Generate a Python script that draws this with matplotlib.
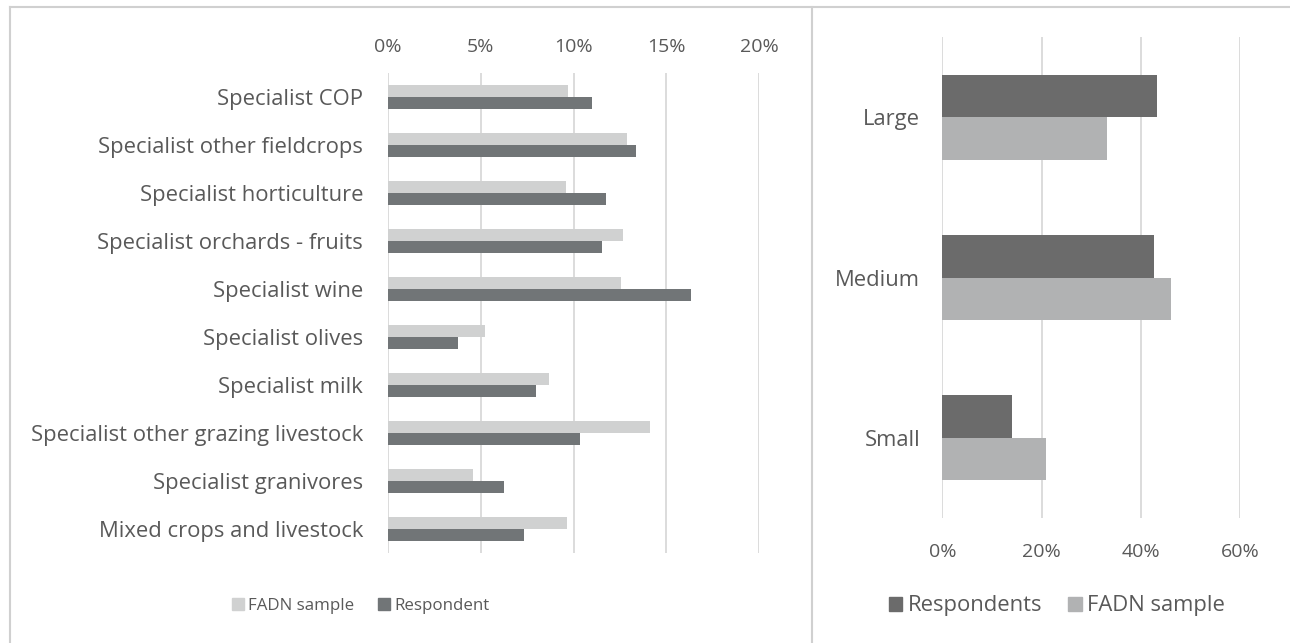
import matplotlib
matplotlib.use("Agg")
import matplotlib.pyplot as plt
import numpy as np
from matplotlib.lines import Line2D
from matplotlib.patches import Patch
from matplotlib.ticker import PercentFormatter

# ---------------- data ----------------
farm_types = ["Specialist COP", "Specialist other fieldcrops", "Specialist horticulture",
              "Specialist orchards - fruits", "Specialist wine", "Specialist olives",
              "Specialist milk", "Specialist other grazing livestock",
              "Specialist granivores", "Mixed crops and livestock"]
fadn_type = [9.7, 12.9, 9.6, 12.65, 12.55, 5.2, 8.65, 14.1, 4.6, 9.65]
resp_type = [11.0, 13.35, 11.75, 11.55, 16.3, 3.75, 7.95, 10.35, 6.25, 7.3]
type_ticks = [0, 5, 10, 15, 20]

sizes = ["Large", "Medium", "Small"]
resp_size = [43.3, 42.7, 14.0]
fadn_size = [33.1, 46.0, 20.8]
size_ticks = [0, 20, 40, 60]

# ---------------- style ----------------
W, H = 1290, 643
TXT = "#595959"
GRID = "#d9d9d9"
plt.rcParams["font.family"] = ["Open Sans", "DejaVu Sans"]
plt.rcParams["text.color"] = TXT

fig = plt.figure(figsize=(W / 100, H / 100), dpi=100)

def px_axes(x0, y0, x1, y1):
    return fig.add_axes([x0 / W, 1 - y1 / H, (x1 - x0) / W, (y1 - y0) / H])

FS_CAT = 15.8
FS_TICK = 14
FS_LEG_L = 12.2
FS_LEG_R = 15.8

# ---------------- left panel ----------------
ax1 = px_axes(388, 73, 759.3, 553)
y = np.arange(len(farm_types))
h = 0.26
ax1.barh(y - h / 2, fadn_type, height=h, color="#d0d1d1", label="FADN sample", zorder=3)
ax1.barh(y + h / 2, resp_type, height=h, color="#717577", label="Respondent", zorder=3)
ax1.set_ylim(len(farm_types) - 0.5, -0.5)
ax1.set_xlim(0, 20)
ax1.set_xticks(type_ticks)
ax1.xaxis.set_major_formatter(PercentFormatter(decimals=0))
ax1.xaxis.tick_top()
ax1.set_yticks(y)
ax1.set_yticklabels(farm_types)
ax1.tick_params(axis="x", length=0, pad=12.5, labelsize=FS_TICK, labelcolor=TXT)
ax1.tick_params(axis="y", length=0, pad=18, labelsize=FS_CAT, labelcolor=TXT)
ax1.grid(axis="x", color=GRID, linewidth=1.3, zorder=0)
for s in ax1.spines.values():
    s.set_visible(False)

fig.legend(handles=[Patch(color="#d0d1d1", label="FADN sample"),
                    Patch(color="#717577", label="Respondent")],
           loc="center", bbox_to_anchor=(361 / W, 1 - 606 / H), ncol=2, frameon=False,
           fontsize=FS_LEG_L, handlelength=0.7, handleheight=0.7, handletextpad=0.25,
           columnspacing=1.4, labelcolor=TXT)

# ---------------- right panel ----------------
ax2 = px_axes(942.3, 37, 1240, 518)
ys = np.arange(len(sizes))
h2 = 0.265
ax2.barh(ys - h2 / 2, resp_size, height=h2, color="#6b6b6b", zorder=3)
ax2.barh(ys + h2 / 2, fadn_size, height=h2, color="#b1b2b3", zorder=3)
ax2.set_ylim(len(sizes) - 0.5, -0.5)
ax2.set_xlim(0, 60)
ax2.set_xticks(size_ticks)
ax2.xaxis.set_major_formatter(PercentFormatter(decimals=0))
ax2.set_yticks(ys)
ax2.set_yticklabels(sizes)
ax2.tick_params(axis="x", length=0, pad=18, labelsize=FS_TICK, labelcolor=TXT)
ax2.tick_params(axis="y", length=0, pad=16, labelsize=FS_CAT, labelcolor=TXT)
ax2.grid(axis="x", color=GRID, linewidth=1.3, zorder=0)
for s in ax2.spines.values():
    s.set_visible(False)

fig.legend(handles=[Patch(color="#6b6b6b", label="Respondents"),
                    Patch(color="#b1b2b3", label="FADN sample")],
           loc="center", bbox_to_anchor=(1057 / W, 1 - 606 / H), ncol=2, frameon=False,
           fontsize=FS_LEG_R, handlelength=0.6, handleheight=0.6, handletextpad=0.25,
           columnspacing=1.2, labelcolor=TXT)

# ---------------- frame lines ----------------
BORDER = "#d0d0d0"
fig.add_artist(Line2D([10 / W, 10 / W], [0, 1 - 7 / H], color=BORDER, lw=1.5, transform=fig.transFigure))
fig.add_artist(Line2D([10 / W, 1], [1 - 7 / H, 1 - 7 / H], color=BORDER, lw=1.5, transform=fig.transFigure))
fig.add_artist(Line2D([812 / W, 812 / W], [0, 1 - 7 / H], color=BORDER, lw=1.5, transform=fig.transFigure))

fig.savefig("out.png", dpi=100)
